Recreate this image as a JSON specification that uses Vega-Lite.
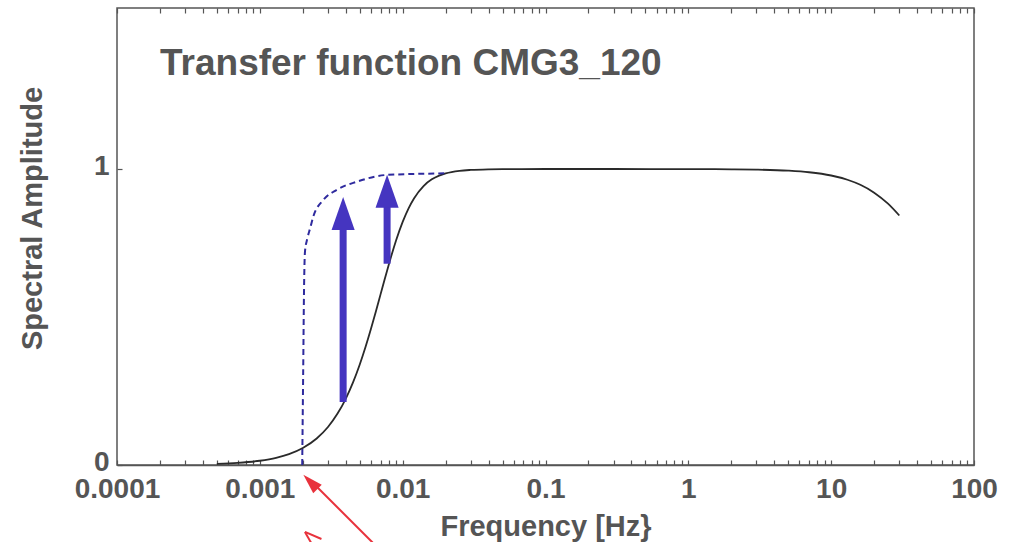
{
  "$schema": "https://vega.github.io/schema/vega-lite/v6.json",
  "width": 857,
  "height": 457,
  "autosize": {"type": "none"},
  "padding": {"left": 117, "top": 8, "right": 44, "bottom": 77},
  "background": "white",
  "config": {
    "view": {"stroke": "#555555", "strokeWidth": 1.5},
    "axis": {"labelFont": "Liberation Sans", "labelFontWeight": "bold", "labelColor": "#555555", "titleFont": "Liberation Sans", "titleFontWeight": "bold", "titleColor": "#555555", "grid": false, "domain": false, "tickColor": "#555555", "tickWidth": 1.2}
  },
  "datasets": {
    "resp": [
      {"f": 0.0005, "a": 0.0036}, {"f": 0.0007, "a": 0.0071}, {"f": 0.001, "a": 0.0144}, {"f": 0.0013, "a": 0.0243},
      {"f": 0.0016, "a": 0.0368}, {"f": 0.002, "a": 0.0575}, {"f": 0.0025, "a": 0.0896}, {"f": 0.003, "a": 0.1285},
      {"f": 0.0035, "a": 0.1737}, {"f": 0.004, "a": 0.2245}, {"f": 0.0045, "a": 0.2799}, {"f": 0.005, "a": 0.3387},
      {"f": 0.0055, "a": 0.3994}, {"f": 0.006, "a": 0.4602}, {"f": 0.0065, "a": 0.5198}, {"f": 0.007, "a": 0.5765},
      {"f": 0.0075, "a": 0.6294}, {"f": 0.008, "a": 0.6777}, {"f": 0.009, "a": 0.7592}, {"f": 0.01, "a": 0.8214},
      {"f": 0.011, "a": 0.8673}, {"f": 0.012, "a": 0.9007}, {"f": 0.014, "a": 0.9426}, {"f": 0.016, "a": 0.9651},
      {"f": 0.018, "a": 0.9778}, {"f": 0.02, "a": 0.9853}, {"f": 0.025, "a": 0.9939}, {"f": 0.03, "a": 0.997},
      {"f": 0.04, "a": 0.9991}, {"f": 0.05, "a": 0.9996}, {"f": 0.1, "a": 1.0}, {"f": 0.3, "a": 1.0},
      {"f": 1, "a": 0.9998}, {"f": 2, "a": 0.9991}, {"f": 3, "a": 0.998}, {"f": 5, "a": 0.9944},
      {"f": 7, "a": 0.9891}, {"f": 10, "a": 0.9781}, {"f": 13, "a": 0.9638}, {"f": 16, "a": 0.9467},
      {"f": 20, "a": 0.9202}, {"f": 25, "a": 0.8829}, {"f": 30, "a": 0.8429}
    ],
    "ideal": [
      {"f": 0.00198, "a": 0.0}, {"f": 0.00201, "a": 0.3}, {"f": 0.00204, "a": 0.6}, {"f": 0.00207, "a": 0.72},
      {"f": 0.00215, "a": 0.765}, {"f": 0.00225, "a": 0.8}, {"f": 0.00237, "a": 0.84}, {"f": 0.00278, "a": 0.895},
      {"f": 0.00346, "a": 0.93}, {"f": 0.00477, "a": 0.957}, {"f": 0.00774, "a": 0.98}, {"f": 0.0173, "a": 0.985},
      {"f": 0.0205, "a": 0.986}
    ],
    "shafts": [
      {"f": 0.00383, "lo": 0.213, "hi": 0.8},
      {"f": 0.00778, "lo": 0.68, "hi": 0.88}
    ],
    "heads": [
      {"f": 0.00383, "a": 0.85},
      {"f": 0.00778, "a": 0.925}
    ],
    "redlines": [
      {"f1": 0.0064, "a1": -0.27, "f2": 0.00235, "a2": -0.06},
      {"f1": 0.00207, "a1": -0.226, "f2": 0.0027, "a2": -0.25},
      {"f1": 0.00207, "a1": -0.226, "f2": 0.00228, "a2": -0.262}
    ],
    "redheads": [
      {"f": 0.00226, "a": -0.057}
    ],
    "titles": [
      {"label": "Transfer function CMG3_120"}
    ]
  },
  "resolve": {"axis": {"x": "independent"}},
  "layer": [
    {
      "data": {"name": "resp"},
      "mark": {"type": "line", "color": "#2a2a2a", "strokeWidth": 1.8, "interpolate": "monotone"},
      "encoding": {
        "x": {"field": "f", "type": "quantitative",
          "scale": {"type": "log", "domain": [0.0001, 100]},
          "axis": {"orient": "bottom", "title": "Frequency [Hz}", "titleFontSize": 29, "titlePadding": 9,
            "values": [0.0001,0.0002,0.0003,0.0004,0.0005,0.0006,0.0007,0.0008,0.0009,0.001,0.002,0.003,0.004,0.005,0.006,0.007,0.008,0.009,0.01,0.02,0.03,0.04,0.05,0.06,0.07,0.08,0.09,0.1,0.2,0.3,0.4,0.5,0.6,0.7,0.8,0.9,1,2,3,4,5,6,7,8,9,10,20,30,40,50,60,70,80,90,100],
            "labelExpr": "abs(log(datum.value)/LN10 - round(log(datum.value)/LN10)) < 0.000001 ? format(datum.value, '.4~f') : ''",
            "labelFontSize": 28, "labelPadding": 15, "tickSize": -5, "labelOverlap": false, "labelFlush": false, "domain": true, "domainColor": "#555555", "domainWidth": 1.5}},
        "y": {"field": "a", "type": "quantitative",
          "scale": {"domain": [0, 1.544], "nice": false, "zero": false},
          "axis": {"title": "Spectral Amplitude", "titleFontSize": 29, "titleAngle": -90, "titleX": -76, "titleY": 210, "titleAlign": "center", "titleBaseline": "alphabetic",
            "values": [0, 1], "labelExpr": "format(datum.value, 'd')", "labelFontSize": 28, "labelPadding": 13, "labelOffset": -3, "tickSize": -5}}
      }
    },
    {
      "data": {"name": "ideal"},
      "mark": {"type": "line", "color": "#2e2a9e", "strokeWidth": 2, "strokeDash": [6, 4], "interpolate": "monotone"},
      "encoding": {
        "x": {"field": "f", "type": "quantitative", "axis": null},
        "y": {"field": "a", "type": "quantitative"}
      }
    },
    {
      "data": {"name": "shafts"},
      "mark": {"type": "rule", "color": "#4535c0", "strokeWidth": 7, "strokeCap": "butt"},
      "encoding": {
        "x": {"field": "f", "type": "quantitative",
          "axis": {"orient": "top", "title": null, "labels": false, "tickSize": -5, "domain": false,
            "values": [0.0001,0.0002,0.0003,0.0004,0.0005,0.0006,0.0007,0.0008,0.0009,0.001,0.002,0.003,0.004,0.005,0.006,0.007,0.008,0.009,0.01,0.02,0.03,0.04,0.05,0.06,0.07,0.08,0.09,0.1,0.2,0.3,0.4,0.5,0.6,0.7,0.8,0.9,1,2,3,4,5,6,7,8,9,10,20,30,40,50,60,70,80,90,100]}},
        "y": {"field": "lo", "type": "quantitative"},
        "y2": {"field": "hi"}
      }
    },
    {
      "data": {"name": "heads"},
      "mark": {"type": "point", "filled": true, "color": "#4535c0", "opacity": 1, "shape": "M-0.7,1L0,-1L0.7,1Z", "size": 1089, "strokeWidth": 0},
      "encoding": {
        "x": {"field": "f", "type": "quantitative", "axis": null},
        "y": {"field": "a", "type": "quantitative"}
      }
    },
    {
      "data": {"name": "redlines"},
      "mark": {"type": "rule", "color": "#e8323c", "strokeWidth": 2},
      "encoding": {
        "x": {"field": "f1", "type": "quantitative", "axis": null},
        "x2": {"field": "f2"},
        "y": {"field": "a1", "type": "quantitative"},
        "y2": {"field": "a2"}
      }
    },
    {
      "data": {"name": "redheads"},
      "mark": {"type": "point", "filled": true, "color": "#e8323c", "opacity": 1, "shape": "M-0.6,1L0,-1L0.6,1Z", "size": 400, "angle": -45, "strokeWidth": 0, "clip": false},
      "encoding": {
        "x": {"field": "f", "type": "quantitative", "axis": null},
        "y": {"field": "a", "type": "quantitative"}
      }
    },
    {
      "data": {"name": "titles"},
      "mark": {"type": "text", "align": "left", "baseline": "alphabetic", "font": "Liberation Sans", "fontWeight": "bold", "fontSize": 37, "color": "#555555"},
      "encoding": {
        "x": {"datum": 0.0002, "type": "quantitative", "axis": null},
        "y": {"datum": 1.318, "type": "quantitative"},
        "text": {"field": "label"}
      }
    }
  ]
}
